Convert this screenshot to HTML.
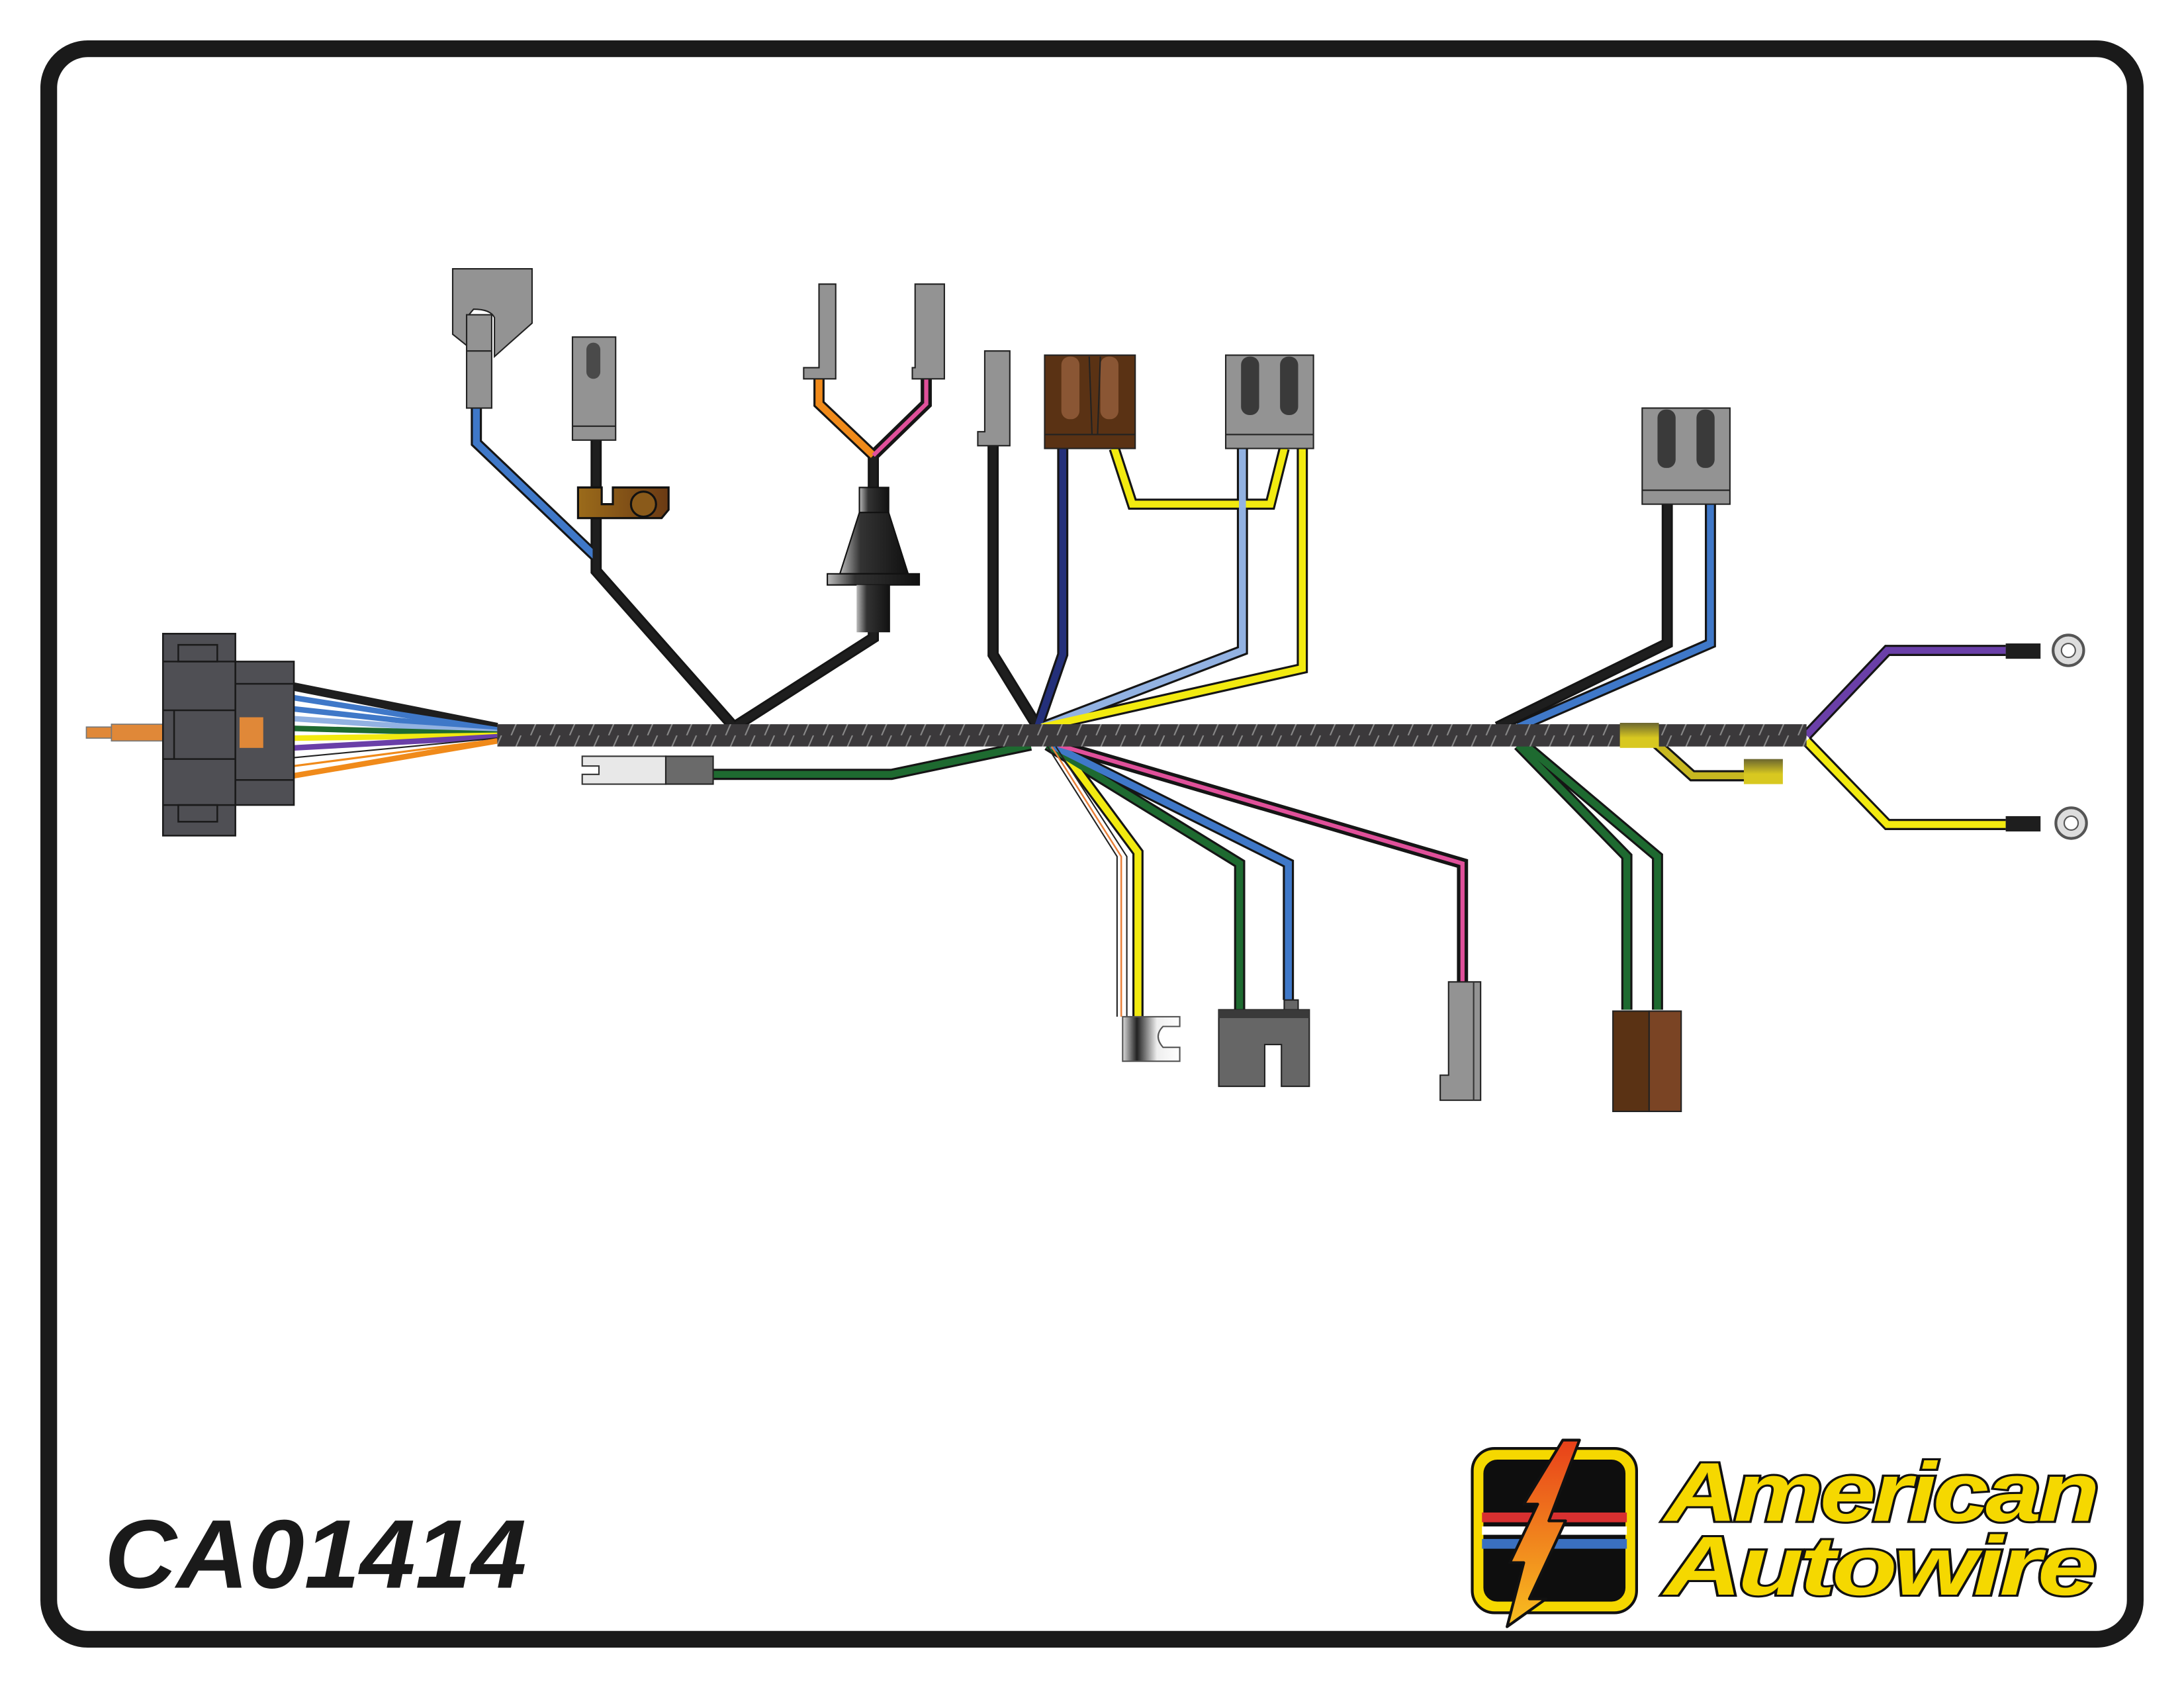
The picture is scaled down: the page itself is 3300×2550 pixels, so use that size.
<!DOCTYPE html>
<html><head><meta charset="utf-8"><style>
html,body{margin:0;padding:0;background:#fff}
svg{display:block}
</style></head><body>
<svg width="3300" height="2550" viewBox="0 0 1568 1212" preserveAspectRatio="none" xmlns="http://www.w3.org/2000/svg">
<defs>
<pattern id="hatch" width="14" height="16" patternUnits="userSpaceOnUse">
<rect width="14" height="16" fill="#3b393b"/>
<line x1="3" y1="16" x2="10" y2="0" stroke="#8a8a8a" stroke-width="1"/>
</pattern>
<linearGradient id="brass" x1="0" x2="1"><stop offset="0" stop-color="#9b6b1a"/><stop offset="1" stop-color="#6b3a14"/></linearGradient>
<linearGradient id="rub" x1="0" x2="1"><stop offset="0" stop-color="#bbb"/><stop offset=".3" stop-color="#333"/><stop offset="1" stop-color="#111"/></linearGradient>
<linearGradient id="silv" x1="0" x2="1"><stop offset="0" stop-color="#ddd"/><stop offset=".25" stop-color="#222"/><stop offset=".6" stop-color="#eee"/><stop offset="1" stop-color="#fff"/></linearGradient>
<linearGradient id="ylw" x1="0" x2="0" y1="0" y2="1"><stop offset="0" stop-color="#6b6630"/><stop offset=".6" stop-color="#d8c820"/></linearGradient>
<linearGradient id="bolt" x1="0" x2="0" y1="0" y2="1"><stop offset="0" stop-color="#e8401a"/><stop offset="1" stop-color="#f8c020"/></linearGradient>
</defs>

<rect x="35" y="35" width="1498" height="1142" rx="28" fill="#fff" stroke="#1a1a1a" stroke-width="12"/>

<g fill="none" stroke-linejoin="miter" stroke-linecap="butt">
<g stroke="#151515" stroke-width="8">
<path d="M342 293 V318 L428 400"/>
<path d="M428 316 V410 L527 522"/>
<path d="M627 327 V458 L527 522"/>
<path d="M588 272 V290 L627 327 L665 290 V272"/>
<path d="M713 320 V470 L745 522"/>
<path d="M763 320 V470 L745 522"/>
<path d="M800 322 L813 362 H912 L922 322"/>
<path d="M892 322 V467 L748 522"/>
<path d="M935 322 V480 L748 522"/>
<path d="M1197 362 V462 L1075 522"/>
<path d="M1228 362 V462 L1090 522"/>
<path d="M1297 528 L1355 467 H1440"/>
<path d="M1297 532 L1355 592 H1440"/>
<path d="M1185 530 L1215 557 H1255"/>
<path d="M740 535 L640 556 H510"/>
<path d="M760 535 L817 612 V730"/>
<path d="M752 535 L890 620 V725"/>
<path d="M755 535 L925 620 V718"/>
<path d="M760 535 L1050 620 V705"/>
<path d="M1090 535 L1168 615 V725"/>
<path d="M1095 535 L1190 615 V725"/>
</g>
<g stroke-width="5">
<path stroke="#3f78c8" d="M342 293 V318 L428 400"/>
<path stroke="#1e1e1e" d="M428 316 V410 L527 522"/>
<path stroke="#1e1e1e" d="M627 327 V458 L527 522"/>
<path stroke="#f08a1a" d="M588 272 V290 L627 327"/>
<path stroke="#e0509a" stroke-width="3" d="M627 327 L665 290 V272"/>
<path stroke="#1e1e1e" d="M713 320 V470 L745 522"/>
<path stroke="#24307a" d="M763 320 V470 L745 522"/>
<path stroke="#f2ea10" d="M800 322 L813 362 H912 L922 322"/>
<path stroke="#92b2e2" d="M892 322 V467 L748 522"/>
<path stroke="#f2ea10" d="M935 322 V480 L748 522"/>
<path stroke="#1e1e1e" d="M1197 362 V462 L1075 522"/>
<path stroke="#3f78c8" d="M1228 362 V462 L1090 522"/>
<path stroke="#6a3fa8" d="M1297 528 L1355 467 H1440"/>
<path stroke="#f2ea10" d="M1297 532 L1355 592 H1440"/>
<path stroke="#c8b820" d="M1185 530 L1215 557 H1255"/>
<path stroke="#1e6a30" d="M740 535 L640 556 H510"/>
<path stroke="#f2ea10" d="M760 535 L817 612 V730"/>
<path stroke="#1e6a30" d="M752 535 L890 620 V725"/>
<path stroke="#3f78c8" d="M755 535 L925 620 V718"/>
<path stroke="#e0509a" stroke-width="3" d="M760 535 L1050 620 V705"/>
<path stroke="#1e6a30" d="M1090 535 L1168 615 V725"/>
<path stroke="#1e6a30" d="M1095 535 L1190 615 V725"/>
</g>
<path stroke="#222" stroke-width="1" d="M752 536 L802 615 V730 M758 536 L809 615 V730"/>
<path stroke="#e8803a" stroke-width="1.2" d="M755 536 L805 615 V730"/>
</g>

<g fill="none" stroke-width="4">
<path stroke="#1e1e1e" stroke-width="6" d="M211 493 L357 522"/>
<path stroke="#3f78c8" d="M211 501 L357 524"/>
<path stroke="#3f78c8" d="M211 509 L357 525"/>
<path stroke="#92b2e2" d="M211 516 L357 526"/>
<path stroke="#1e6a30" d="M211 523 L357 527"/>
<path stroke="#f2ea10" d="M211 530 L357 528"/>
<path stroke="#6a3fa8" d="M211 537 L357 529"/>
<path stroke="#222" stroke-width="1" d="M211 544 L357 530"/>
<path stroke="#f08a1a" stroke-width="1.5" d="M211 550 L357 531"/>
<path stroke="#f08a1a" d="M211 557 L357 532"/>
</g>

<rect x="357" y="520" width="940" height="16" fill="url(#hatch)"/>
<rect x="1163" y="519" width="28" height="18" fill="url(#ylw)"/>

<rect x="62" y="522" width="18" height="8" fill="#e08838" stroke="#777" stroke-width=".8"/>
<rect x="80" y="520" width="37" height="12" fill="#e08838" stroke="#777" stroke-width=".8"/>
<g stroke="#1a1a1a" stroke-width="1.2" fill="#4f4f54">
<rect x="117" y="455" width="52" height="145"/>
<rect x="169" y="475" width="42" height="103"/>
<line x1="117" y1="475" x2="169" y2="475"/><line x1="117" y1="578" x2="169" y2="578"/>
<rect x="128" y="463" width="28" height="12" fill="none"/><rect x="128" y="578" width="28" height="12" fill="none"/>
<line x1="117" y1="510" x2="169" y2="510"/><line x1="117" y1="545" x2="169" y2="545"/>
<line x1="169" y1="491" x2="211" y2="491"/><line x1="169" y1="560" x2="211" y2="560"/>
<line x1="125" y1="510" x2="125" y2="545"/>
</g>
<rect x="172" y="515" width="17" height="22" fill="#e08838"/>

<path d="M325 193 H382 V232 L355 256 V228 Q352 222 340 222 L335 228 V248 L325 240 Z" fill="#939393" stroke="#222" stroke-width="1"/>
<rect x="335" y="226" width="18" height="67" fill="#939393" stroke="#222" stroke-width="1"/>
<line x1="335" y1="252" x2="353" y2="252" stroke="#222"/>
<rect x="411" y="242" width="31" height="74" fill="#939393" stroke="#222" stroke-width="1"/>
<rect x="421" y="246" width="10" height="26" rx="5" fill="#4a4a4a"/>
<line x1="411" y1="306" x2="442" y2="306" stroke="#222"/>
<path d="M415 350 H432 V362 H440 V350 H480 V366 L475 372 H415 Z" fill="url(#brass)" stroke="#111" stroke-width="1.5"/>
<ellipse cx="462" cy="362" rx="9" ry="9" fill="#8a5a1a" stroke="#111" stroke-width="1.5"/>
<path d="M588 204 H600 V272 H577 V264 H588 Z" fill="#939393" stroke="#222" stroke-width="1"/>
<path d="M657 204 H678 V272 H655 V264 H657 Z" fill="#939393" stroke="#222" stroke-width="1"/>
<rect x="617" y="350" width="21" height="18" fill="url(#rub)" stroke="#111"/>
<path d="M617 368 H638 L652 412 H603 Z" fill="url(#rub)" stroke="#111"/>
<rect x="594" y="412" width="66" height="8" fill="url(#rub)" stroke="#111"/>
<rect x="615" y="420" width="24" height="34" fill="url(#rub)"/>

<path d="M707 252 H725 V320 H702 V310 H707 Z" fill="#939393" stroke="#222" stroke-width="1"/>
<rect x="750" y="255" width="65" height="67" fill="#5a3214" stroke="#222" stroke-width="1"/>
<rect x="762" y="256" width="13" height="45" rx="6" fill="#8a5634"/>
<rect x="790" y="256" width="13" height="45" rx="6" fill="#8a5634"/>
<path d="M782 256 L784 312 M788 312 L790 256 M750 312 H815" stroke="#222" fill="none"/>
<rect x="880" y="255" width="63" height="67" fill="#939393" stroke="#222" stroke-width="1"/>
<rect x="891" y="256" width="13" height="42" rx="6" fill="#3a3a3a"/>
<rect x="919" y="256" width="13" height="42" rx="6" fill="#3a3a3a"/>
<line x1="880" y1="312" x2="943" y2="312" stroke="#222"/>
<rect x="1179" y="293" width="63" height="69" fill="#939393" stroke="#222" stroke-width="1"/>
<rect x="1190" y="294" width="13" height="42" rx="6" fill="#3a3a3a"/>
<rect x="1218" y="294" width="13" height="42" rx="6" fill="#3a3a3a"/>
<line x1="1179" y1="352" x2="1242" y2="352" stroke="#222"/>
<rect x="1440" y="462" width="25" height="11" fill="#1e1e1e"/>
<circle cx="1485" cy="467" r="11" fill="#ddd" stroke="#555" stroke-width="2"/><circle cx="1485" cy="467" r="5" fill="#fff" stroke="#555"/>
<rect x="1440" y="586" width="25" height="11" fill="#1e1e1e"/>
<circle cx="1487" cy="591" r="11" fill="#ddd" stroke="#555" stroke-width="2"/><circle cx="1487" cy="591" r="5" fill="#fff" stroke="#555"/>
<rect x="1252" y="545" width="28" height="18" fill="url(#ylw)"/>
<path d="M418 543 H478 V563 H418 V556 H430 V550 H418 Z" fill="#e8e8e8" stroke="#333"/>
<rect x="478" y="543" width="34" height="20" fill="#6a6a6a" stroke="#222"/>

<path d="M806 730 H847 V737 H835 Q828 744 835 752 H847 V762 H806 Z" fill="url(#silv)" stroke="#555"/>
<rect x="922" y="718" width="10" height="22" fill="#666" stroke="#222"/>
<path d="M875 725 H940 V780 H920 V750 H908 V780 H875 Z" fill="#666" stroke="#222"/>
<rect x="875" y="725" width="65" height="6" fill="#3a3a3a"/>
<path d="M1040 705 H1063 V790 H1034 V772 H1040 Z" fill="#939393" stroke="#222"/>
<line x1="1058" y1="705" x2="1058" y2="790" stroke="#333"/>
<rect x="1158" y="726" width="26" height="72" fill="#5a3214" stroke="#222"/>
<rect x="1184" y="726" width="23" height="72" fill="#7a4424" stroke="#222"/>

<text x="75" y="1140" font-family="Liberation Sans, sans-serif" font-weight="bold" font-style="italic" font-size="70" fill="#1a1a1a" textLength="303" lengthAdjust="spacingAndGlyphs">CA01414</text>

<rect x="1057" y="1040" width="118" height="118" rx="16" fill="#f5d800" stroke="#111" stroke-width="2"/>
<rect x="1064" y="1047" width="104" height="104" rx="11" fill="#0e0e0e" stroke="#f5d800" stroke-width="2"/>
<rect x="1064" y="1086" width="104" height="7" fill="#d83030"/>
<rect x="1064" y="1096" width="104" height="6" fill="#fff"/>
<rect x="1064" y="1105" width="104" height="7" fill="#3a70c0"/>
<path d="M1122 1034 L1134 1034 L1112 1092 L1124 1092 L1098 1148 L1110 1148 L1082 1168 L1094 1122 L1084 1122 L1104 1080 L1094 1080 Z" fill="url(#bolt)" stroke="#111" stroke-width="2" stroke-linejoin="round"/>
<g font-family="Liberation Sans, sans-serif" font-weight="bold" font-style="italic" font-size="60" fill="#f5d800" stroke="#111" stroke-width="3" paint-order="stroke" letter-spacing="-2">
<text x="1195" y="1092" textLength="310" lengthAdjust="spacingAndGlyphs">American</text>
<text x="1195" y="1145" textLength="308" lengthAdjust="spacingAndGlyphs">Autowire</text>
</g>
</svg>
</body></html>
